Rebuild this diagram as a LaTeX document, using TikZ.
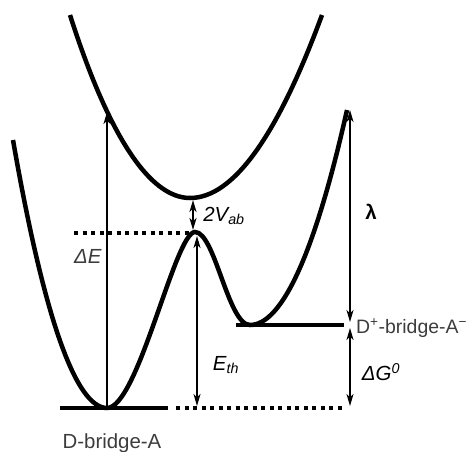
\documentclass[tikz,border=0pt]{standalone}
\usepackage{fontspec}
\setmainfont{Liberation Sans}
\usetikzlibrary{arrows.meta,positioning}
\definecolor{ink}{HTML}{3C3C3C}

\begin{document}
\begin{tikzpicture}[
  x=1bp, y=-1bp,
  surface/.style={line width=4.5bp},
  level/.style={line width=4bp},
  dotlevel/.style={line width=4bp, dash pattern=on 4bp off 4.5bp},
  arr/.style={line width=1.3bp, -{Stealth[length=12bp,width=7bp,inset=3.5bp]}},
  darr/.style={line width=1.3bp, {Stealth[length=12bp,width=7bp,inset=3.5bp]}-{Stealth[length=12bp,width=7bp,inset=3.5bp]}},
  lbl/.style={font=\fontsize{20.5}{24}\selectfont, text=ink, inner sep=0pt},
]
  \useasboundingbox (0,0) rectangle (468,452);

  % key points of the two surfaces
  \coordinate (gsmin) at (107,408);
  \coordinate (barrier) at (195,232);
  \coordinate (exmin) at (190,198);
  \coordinate (prmin) at (250,325);
  \coordinate (vert) at (107,112);
  \coordinate (lamtop) at (350,110);

  % upper surface
  \draw[surface] (70,15) .. controls (109,137) and (150,198) .. (exmin)
    .. controls (233,198) and (277,137) .. (322,15);
  % lower surface
  \draw[surface] (13,140) .. controls (44,318) and (76,408) .. (gsmin)
    .. controls (138,408) and (175,232) .. (barrier)
    .. controls (215,232) and (228,325) .. (prmin)
    .. controls (282,325) and (315,253) .. (347,110);

  % levels
  \draw[level] (60,408) -- (168,408);
  \draw[level] (236,325) -- (344,325);
  \draw[dotlevel] (176,408) -- (342,408);
  \draw[dotlevel] (74,233) -- (190,233);

  % arrows
  \coordinate (ethtop) at (197,236);
  \coordinate (ethbot) at (197,406);
  \coordinate (gaptop) at (193,200);
  \coordinate (gapbot) at (193,230);
  \coordinate (prlev) at (350,322);
  \coordinate (prlev2) at (350,328);
  \coordinate (gslev) at (350,406);

  \draw[arr] (gsmin) -- (vert);
  \draw[darr, line width=2.2bp] (gaptop) -- (gapbot);
  \draw[darr] (ethtop) -- (ethbot);
  \draw[darr] (lamtop) -- (prlev);
  \draw[darr] (prlev2) -- (gslev);

  % labels
  \node[lbl] (dE) at (88,256) {\textit{ΔE}};
  \node[lbl, text=black] (gap) at (224,216) {\textit{2V\textsubscript{ab}}};
  \node[lbl, text=black] (lam) at (371,212) {\textbf{λ}};
  \node[lbl, text=black] (eth) at (226,365) {\textit{E\textsubscript{th}}};
  \node[lbl, text=black] (dG) at (381,372) {\textit{ΔG\textsuperscript{0}}};
  \node[lbl, anchor=west, font=\fontsize{19.5}{23}\selectfont] (prod) at (356,328) {D\textsuperscript{+}-bridge-A\textsuperscript{−}};
  \node[lbl] (reac) at (112,443) {D-bridge-A};
\end{tikzpicture}
\end{document}
